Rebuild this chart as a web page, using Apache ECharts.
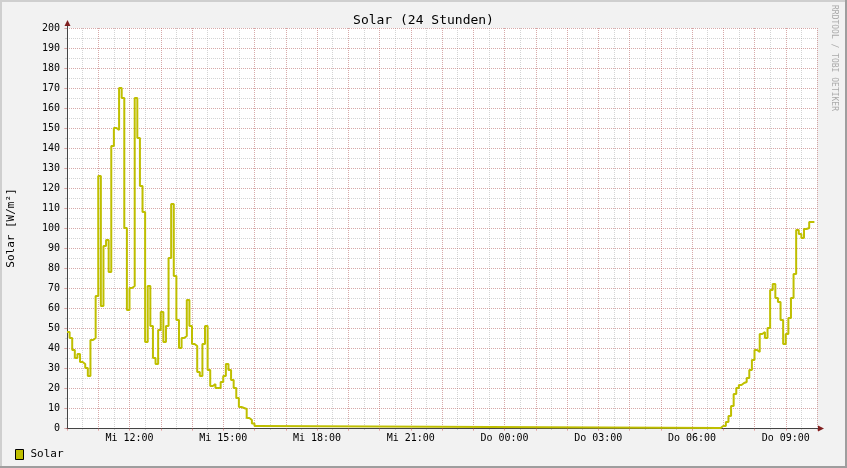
<!DOCTYPE html>
<html>
<head>
<meta charset="utf-8">
<script src="https://cdn.jsdelivr.net/npm/echarts@6/dist/echarts.min.js"></script>
<style>
html,body{margin:0;padding:0;background:#f2f2f2;}
#chart{width:847px;height:468px;}
</style>
</head>
<body>
<div id="chart"></div>
<script>
// ---- data (5-minute steps, minutes after Mi 10:00) ----
const chartTitle = 'Solar (24 Stunden)';
const seriesName = 'Solar';
const yAxisName = 'Solar [W/m²]';
const sideText = 'RRDTOOL / TOBI OETIKER';
const dayNames = ['Mi', 'Do'];
const startHour = 10;
const stepMinutes = 5;
const totalMinutes = 1440;
const labelEveryMinutes = 180;
const firstLabelMinute = 120;

const afternoonStartMinute = 0;
const afternoonValues = [48, 45, 39, 35, 37, 33, 32, 30, 26, 44, 45, 66, 126, 61, 91, 94, 78, 141, 150, 149,
  170, 165, 100, 59, 70, 71, 165, 145, 121, 108, 43, 71, 51, 35, 32, 49, 58, 43, 51, 85,
  112, 76, 54, 40, 45, 46, 64, 51, 42, 41, 28, 26, 42, 51, 29, 21, 22, 20, 20, 23,
  26, 32, 29, 24, 20, 15, 10.5, 10, 9.5, 5, 4, 2.3, 1];
const nightZeroValue = 0;
const morningStartMinute = 1255;
const morningValues = [1, 1, 3, 6, 11, 17, 20, 21.5, 22.5, 23, 25, 29, 34, 39, 38, 47, 48, 45, 50, 69,
  72, 65, 63, 54, 42, 47, 55, 65, 77, 99, 97, 95, 99.5, 100, 103, 103];

// build series data from the arrays
const seriesData = [];
afternoonValues.forEach((v, i) => seriesData.push([afternoonStartMinute + i * stepMinutes, v]));
seriesData.push([afternoonStartMinute + afternoonValues.length * stepMinutes, nightZeroValue]);
morningValues.forEach((v, i) => seriesData.push([morningStartMinute + i * stepMinutes, v]));
seriesData.push([morningStartMinute + morningValues.length * stepMinutes, morningValues[morningValues.length - 1]]);

const FONT = 'DejaVu Sans Mono';
const MAJOR = 'rgba(222,79,79,0.32)';
const MINOR = 'rgba(143,143,143,0.38)';
const AXIS = '#444';
const ARROW = '#801f1f';
const LINE = '#bfbf00';

function xLabel(v) {
  if ((v - firstLabelMinute) % labelEveryMinutes !== 0) return '';
  const totalH = startHour + v / 60;
  const day = dayNames[Math.floor(totalH / 24)];
  const h = totalH % 24;
  return day + ' ' + String(h).padStart(2, '0') + ':00';
}

const chart = echarts.init(document.getElementById('chart'), null, {renderer: 'canvas'});
const L = 67, T = 28, W = 750, H = 400;
chart.setOption({
  backgroundColor: '#f2f2f2',
  animation: false,
  title: {
    text: chartTitle, left: 'center', top: 9,
    textStyle: {fontFamily: FONT, fontSize: 13, fontWeight: 'normal', color: '#000'}
  },
  legend: {
    data: [seriesName], left: 10, top: 444, icon: 'rect', itemWidth: 8, itemHeight: 10,
    itemGap: 10,
    itemStyle: {borderColor: '#000', borderWidth: 1},
    textStyle: {fontFamily: FONT, fontSize: 11, color: '#000', padding: [0, 0, 0, 2]}
  },
  grid: {left: L, top: T, width: W, height: H, containLabel: false, outerBoundsMode: 'none',
    show: true, backgroundColor: '#fff', borderWidth: 0},
  xAxis: [
    {
      type: 'value', position: 'bottom', min: 0, max: totalMinutes, interval: 30, z: 0,
      axisLine: {show: false}, axisLabel: {show: false},
      axisTick: {show: true, length: 2, lineStyle: {color: MINOR}},
      splitLine: {show: true, lineStyle: {color: MINOR, width: 1, type: [1, 1]}}
    },
    {
      type: 'value', position: 'bottom', min: 0, max: totalMinutes, interval: 60, z: 1,
      axisLine: {show: true, onZero: false, lineStyle: {color: AXIS, width: 1}},
      axisTick: {show: true, length: 3, lineStyle: {color: MAJOR}},
      axisLabel: {show: true, formatter: xLabel, margin: 5, fontFamily: FONT, fontSize: 10, color: '#000',
        showMinLabel: true, showMaxLabel: true, hideOverlap: false},
      splitLine: {show: true, lineStyle: {color: MAJOR, width: 1, type: [1, 1]}}
    }
  ],
  yAxis: [
    {
      type: 'value', position: 'left', min: 0, max: 200, interval: 5, z: 0,
      axisLine: {show: false}, axisLabel: {show: false},
      axisTick: {show: true, length: 2, lineStyle: {color: MINOR}},
      splitLine: {show: true, lineStyle: {color: MINOR, width: 1, type: [1, 1]}}
    },
    {
      type: 'value', position: 'left', min: 0, max: 200, interval: 10, z: 1,
      name: yAxisName, nameLocation: 'middle', nameRotate: 90, nameGap: 50,
      nameTextStyle: {fontFamily: FONT, fontSize: 11, color: '#000'},
      axisLine: {show: true, onZero: false, lineStyle: {color: AXIS, width: 1}},
      axisTick: {show: true, length: 3, lineStyle: {color: MAJOR}},
      axisLabel: {show: true, margin: 7, fontFamily: FONT, fontSize: 10, color: '#000'},
      splitLine: {show: true, lineStyle: {color: MAJOR, width: 1, type: [1, 1]}}
    }
  ],
  series: [{
    name: seriesName, type: 'line', step: 'end', xAxisIndex: 1, yAxisIndex: 1,
    data: seriesData, showSymbol: false, symbol: 'none', clip: false, z: 5,
    lineStyle: {color: LINE, width: 2}, itemStyle: {color: LINE}
  }],
  graphic: [
    {type: 'rect', shape: {x: 0, y: 0, width: 847, height: 2}, style: {fill: '#cfcfcf'}, silent: true},
    {type: 'rect', shape: {x: 0, y: 0, width: 2, height: 468}, style: {fill: '#cfcfcf'}, silent: true},
    {type: 'rect', shape: {x: 0, y: 466, width: 847, height: 2}, style: {fill: '#9e9e9e'}, silent: true},
    {type: 'rect', shape: {x: 845, y: 0, width: 2, height: 468}, style: {fill: '#9e9e9e'}, silent: true},
    {type: 'line', shape: {x1: L + 0.5, y1: T - 6, x2: L + 0.5, y2: T}, style: {stroke: AXIS, lineWidth: 1}, z: 10},
    {type: 'line', shape: {x1: L + W, y1: T + H + 0.5, x2: L + W + 5, y2: T + H + 0.5}, style: {stroke: AXIS, lineWidth: 1}, z: 10},
    {type: 'polygon', shape: {points: [[L + 0.5, T - 8], [L - 2.5, T - 2], [L + 3.5, T - 2]]}, style: {fill: ARROW}, z: 10},
    {type: 'polygon', shape: {points: [[L + W + 7, T + H + 0.5], [L + W + 1, T + H - 2.5], [L + W + 1, T + H + 3.5]]}, style: {fill: ARROW}, z: 10},
    {type: 'text', x: 834, y: 5, rotation: -Math.PI / 2,
      style: {text: sideText, fontFamily: FONT, fontSize: 8, fill: '#aaaaaa', align: 'left', verticalAlign: 'middle'}}
  ]
});
</script>
</body>
</html>
